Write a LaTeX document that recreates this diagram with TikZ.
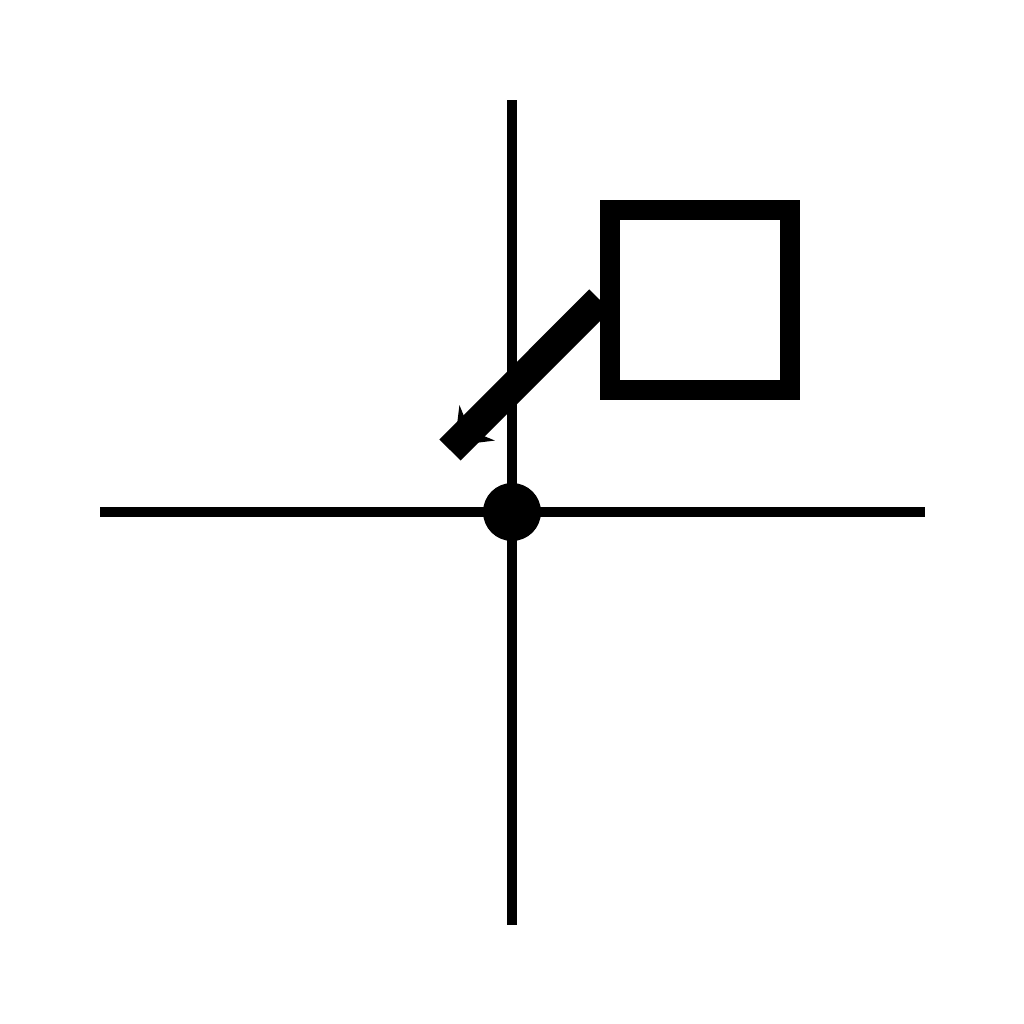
\documentclass[tikz,border=0pt]{standalone}
\usepackage{tikz}
\usetikzlibrary{calc}
\usetikzlibrary{arrows.meta}
\tikzset{axis/.style={color=#1,line width=0.1cm},axis/.default=black}
\tikzset{pointer/.style={color=#1,line width=0.3cm},pointer/.default=black}
\begin{document}
\begin{tikzpicture}[x=0.01cm,y=-0.01cm,
                    box/.style={draw,line width=0.2cm,minimum size=1.8cm,inner sep=0pt},
                    origin pt/.style={fill=black}]

		\useasboundingbox (0,0) rectangle (1024,1024);

		% Os eixos
		\coordinate (origin) at (512,512);
		\draw [axis] (100,512) -- (925,512);
		\draw [axis] (512,100) -- (512,925);

		% Ponto na origem
		\fill [origin pt] (origin) circle (29);

		% A caixa
		\node [box] (box) at (700,300) {};

		% Ponteiro saindo da caixa
		\coordinate (pointer end) at (450,450);
		\coordinate (tip) at ($(pointer end) ! 0.03 ! (box.west)$);
		\draw [-{Stealth[length=0.32cm,width=0.5cm]}] (box.west) -- (tip);
		\draw [pointer] (box.west) -- (pointer end);

	\end{tikzpicture}
\end{document}
